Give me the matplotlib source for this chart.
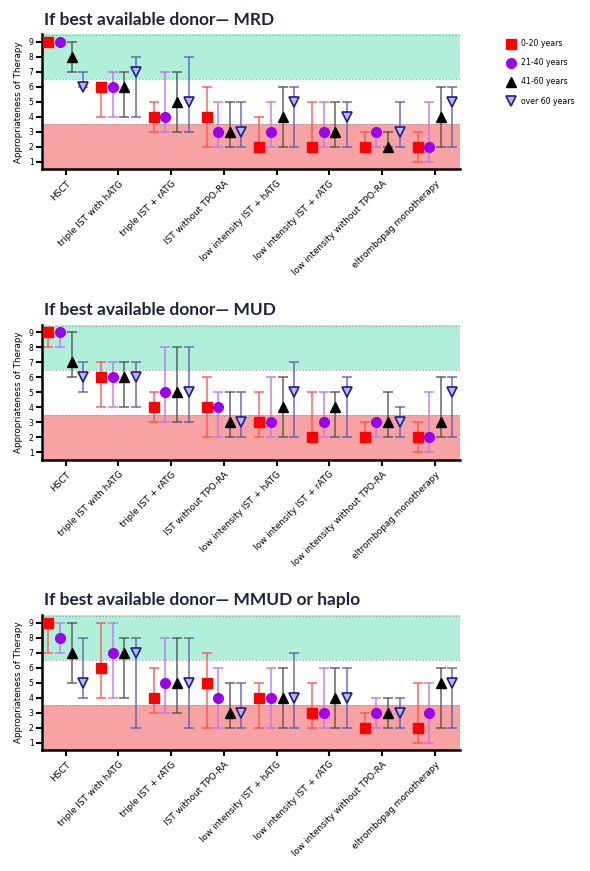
import matplotlib
matplotlib.use("Agg")
import matplotlib.pyplot as plt
import numpy as np

therapies = ["HSCT", "triple IST with hATG", "triple IST + rATG", "IST without TPO-RA",
             "low intensity IST + hATG", "low intensity IST + rATG",
             "low intensity without TPO-RA", "eltrombopag monotherapy"]
groups = ["0-20 years", "21-40 years", "41-60 years", "over 60 years"]
titles = ["If best available donor\u2014 MRD", "If best available donor\u2014 MUD",
          "If best available donor\u2014 MMUD or haplo"]

# median, low, high per panel -> per age group -> per therapy
mrd_med = [[9, 6, 4, 4, 2, 2, 2, 2],
           [9, 6, 4, 3, 3, 3, 3, 2],
           [8, 6, 5, 3, 4, 3, 2, 4],
           [6, 7, 5, 3, 5, 4, 3, 5]]
mrd_lo = [[9, 4, 3, 2, 2, 2, 2, 1],
          [9, 4, 3, 2, 2, 2, 2, 1],
          [7, 4, 3, 2, 2, 2, 2, 2],
          [6, 4, 3, 2, 2, 2, 2, 2]]
mrd_hi = [[9, 6, 5, 6, 4, 5, 3, 3],
          [9, 7, 7, 5, 5, 5, 3, 5],
          [9, 7, 7, 5, 6, 5, 3, 6],
          [7, 8, 8, 5, 6, 5, 5, 6]]

mud_med = [[9, 6, 4, 4, 3, 2, 2, 2],
           [9, 6, 5, 4, 3, 3, 3, 2],
           [7, 6, 5, 3, 4, 4, 3, 3],
           [6, 6, 5, 3, 5, 5, 3, 5]]
mud_lo = [[8, 4, 3, 2, 2, 2, 2, 1],
          [8, 4, 3, 2, 2, 2, 2, 1],
          [6, 4, 3, 2, 2, 2, 2, 2],
          [5, 4, 3, 2, 2, 2, 2, 2]]
mud_hi = [[9, 7, 5, 6, 5, 5, 3, 3],
          [9, 7, 8, 5, 6, 5, 3, 5],
          [9, 7, 8, 5, 6, 5, 5, 6],
          [7, 7, 8, 5, 7, 6, 4, 6]]

mmud_med = [[9, 6, 4, 5, 4, 3, 2, 2],
            [8, 7, 5, 4, 4, 3, 3, 3],
            [7, 7, 5, 3, 4, 4, 3, 5],
            [5, 7, 5, 3, 4, 4, 3, 5]]
mmud_lo = [[7, 4, 3, 2, 2, 2, 2, 1],
           [7, 4, 3, 2, 2, 2, 2, 1],
           [5, 4, 3, 2, 2, 2, 2, 2],
           [4, 2, 2, 2, 2, 2, 2, 2]]
mmud_hi = [[9, 9, 6, 7, 5, 5, 3, 5],
           [9, 9, 8, 6, 6, 6, 4, 5],
           [9, 8, 8, 5, 6, 6, 4, 6],
           [8, 8, 8, 5, 7, 6, 4, 6]]

panels = [(mrd_med, mrd_lo, mrd_hi), (mud_med, mud_lo, mud_hi), (mmud_med, mmud_lo, mmud_hi)]

colors = ["#ff0000", "#9b00f0", "#000000", "#1c1c8c"]
bar_colors = ["#ff5050", "#c070f5", "#505050", "#5a5ab0"]
markers = ["s", "o", "^", "v"]

fig = plt.figure(figsize=(5.9, 8.71), dpi=100)
bottoms = [0.8054, 0.4719, 0.1389]
offsets = [-0.33, -0.11, 0.11, 0.33]
x = np.arange(len(therapies))

handles = []
for p, (med, lo, hi) in enumerate(panels):
    ax = fig.add_axes([0.0712, bottoms[p], 0.708, 0.155])
    ax.axhspan(6.5, 9.5, color="#b0f0da", zorder=0, lw=0)
    ax.axhspan(0.5, 3.5, color="#f8a3a3", zorder=0, lw=0)
    for yy in (3.5, 6.5, 9.45):
        ax.axhline(yy, color="#999999", ls=(0, (1, 2)), lw=0.8, zorder=1)
    for g in range(4):
        m = np.array(med[g])
        l = np.array(lo[g])
        h = np.array(hi[g])
        ax.errorbar(x + offsets[g], m, yerr=[m - l, h - m], fmt="none",
                    ecolor=bar_colors[g], elinewidth=1.3, capsize=3.6, capthick=1.3,
                    alpha=0.75, zorder=2)
        if g == 3:
            hd, = ax.plot(x + offsets[g], m, ls="none", marker=markers[g], ms=6.5,
                          mfc="#b8b8e8", mec=colors[g], mew=1.2, zorder=3)
        else:
            hd, = ax.plot(x + offsets[g], m, ls="none", marker=markers[g], ms=7,
                          color=colors[g], zorder=3)
        if p == 0:
            handles.append(hd)
    ax.set_xlim(-0.45, 7.47)
    ax.set_ylim(0.5, 9.5)
    ax.set_yticks(range(1, 10))
    ax.set_xticks(x)
    ax.set_xticklabels(therapies, rotation=45, ha="right", rotation_mode="anchor",
                       fontsize=6.4)
    ax.tick_params(axis="y", labelsize=5.5, length=4, width=1.5, pad=2)
    ax.tick_params(axis="x", length=4, width=1.5, pad=3)
    for s in ("top", "right"):
        ax.spines[s].set_visible(False)
    for s in ("left", "bottom"):
        ax.spines[s].set_linewidth(1.8)
    ax.set_ylabel("Appropriateness of Therapy", fontsize=6.3, labelpad=4)
    ax.text(0.005, 1.11, titles[p], transform=ax.transAxes, fontsize=12.5,
            fontweight="bold", family="Lato", color="#1c2440", va="center", ha="left")

fig.legend(handles, groups, loc="upper left", bbox_to_anchor=(0.848, 0.963),
           frameon=False, fontsize=5.6, handletextpad=0.7, labelspacing=1.3,
           handlelength=1.0)

fig.savefig("out.png", dpi=100)
